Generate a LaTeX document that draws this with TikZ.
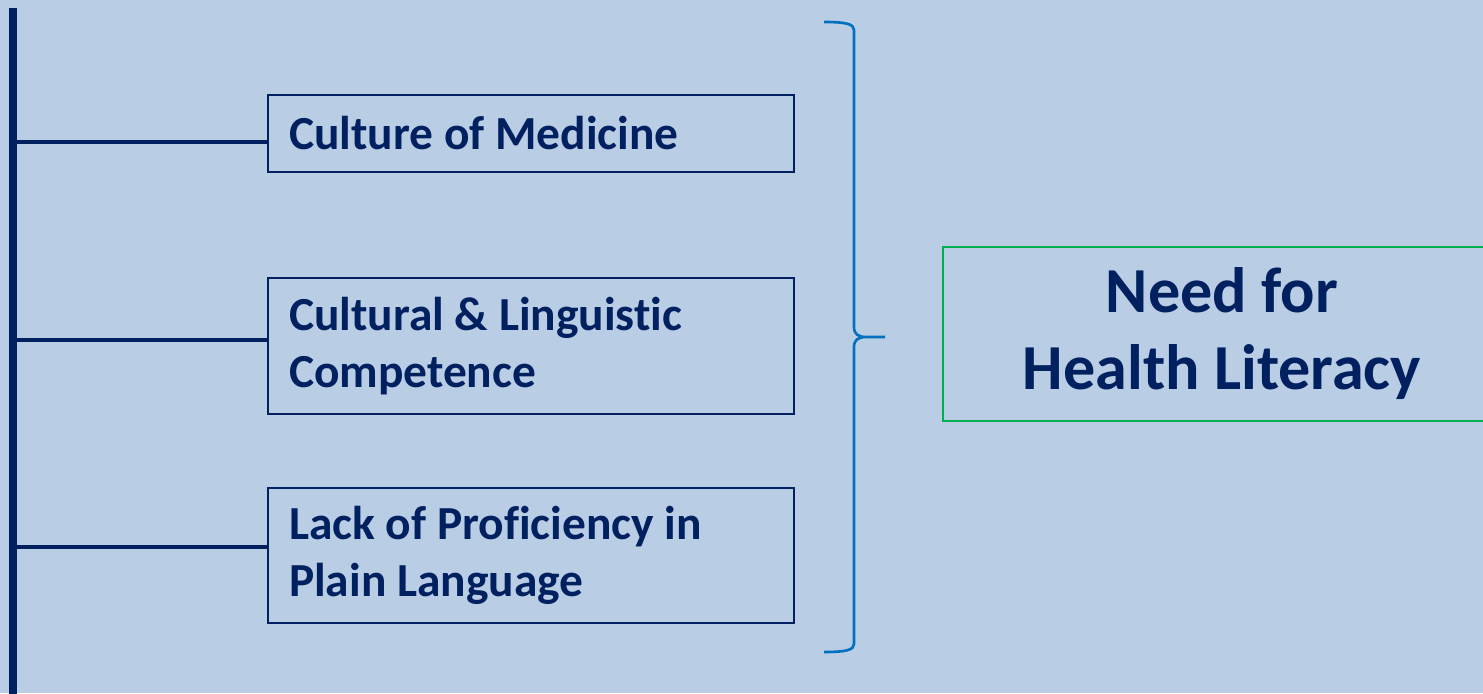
\documentclass[tikz,border=0pt]{standalone}
\usepackage{fontspec}
\setmainfont[Ligatures=NoCommon]{Carlito}
\definecolor{navy}{HTML}{002060}
\definecolor{slide}{HTML}{B9CDE5}
\definecolor{bracec}{HTML}{0070C0}
\definecolor{greenc}{HTML}{00B050}
\newcommand\narrowspace{\spaceskip=0.226em\relax}
\tikzset{
  factor/.style={draw=navy, line width=1.5pt, minimum width=10.52cm, text width=9.68cm,
    inner xsep=0.42cm, align=left, text=navy, font=\fontsize{27}{32.4}\selectfont\bfseries,
    execute at begin node=\narrowspace},
  branch/.style={draw=navy, line width=2pt},
}
\begin{document}
\begin{tikzpicture}[x=0.02cm, y=-0.02cm]
  \fill[slide] (0,0) rectangle (1483,693);
  \useasboundingbox (0,0) rectangle (1483,693);
  \clip (0,0) rectangle (1483,693);

  \node [factor, minimum height=1.54cm](medicine) at (531,133.5) {Culture of Medicine};
  \node [factor, minimum height=2.72cm](competence) at (531,346) {Cultural \& Linguistic\\Competence};
  \node [factor, minimum height=2.70cm](plain) at (531,555.5) {Lack of Proficiency in\\Plain Language};

  \node [draw=greenc, line width=1.4pt, minimum width=11.16cm, minimum height=3.48cm,
    align=center, text=navy, font=\fontsize{36.5}{43.8}\selectfont\bfseries,
    execute at begin node=\narrowspace](need) at (1222,334)
    {Need for\\Health Literacy};

  % the stem and its branches
  \coordinate (top) at (13,8);
  \coordinate (bottom) at (13,700);
  \draw [navy, line width=4.2pt] (top) -- (bottom);
  \coordinate (b1) at (13,142);
  \coordinate (b2) at (13,340);
  \coordinate (b3) at (13,547);
  \draw [branch] (b1) -- (b1 -| medicine.west);
  \draw [branch] (b2) -- (b2 -| competence.west);
  \draw [branch] (b3) -- (b3 -| plain.west);

  % right brace
  \coordinate (tip) at (885,337);
  \draw [bracec, line width=1.5pt, line join=round]
    (824,22) .. controls (846,22) and (854,24) .. (854,30) -- (854,327)
    .. controls (854,334) and (858,337) .. (866,337) -- (tip)
    (866,337) .. controls (858,337) and (854,340) .. (854,347) -- (854,644)
    .. controls (854,650) and (846,652) .. (824,652);
\end{tikzpicture}
\end{document}
